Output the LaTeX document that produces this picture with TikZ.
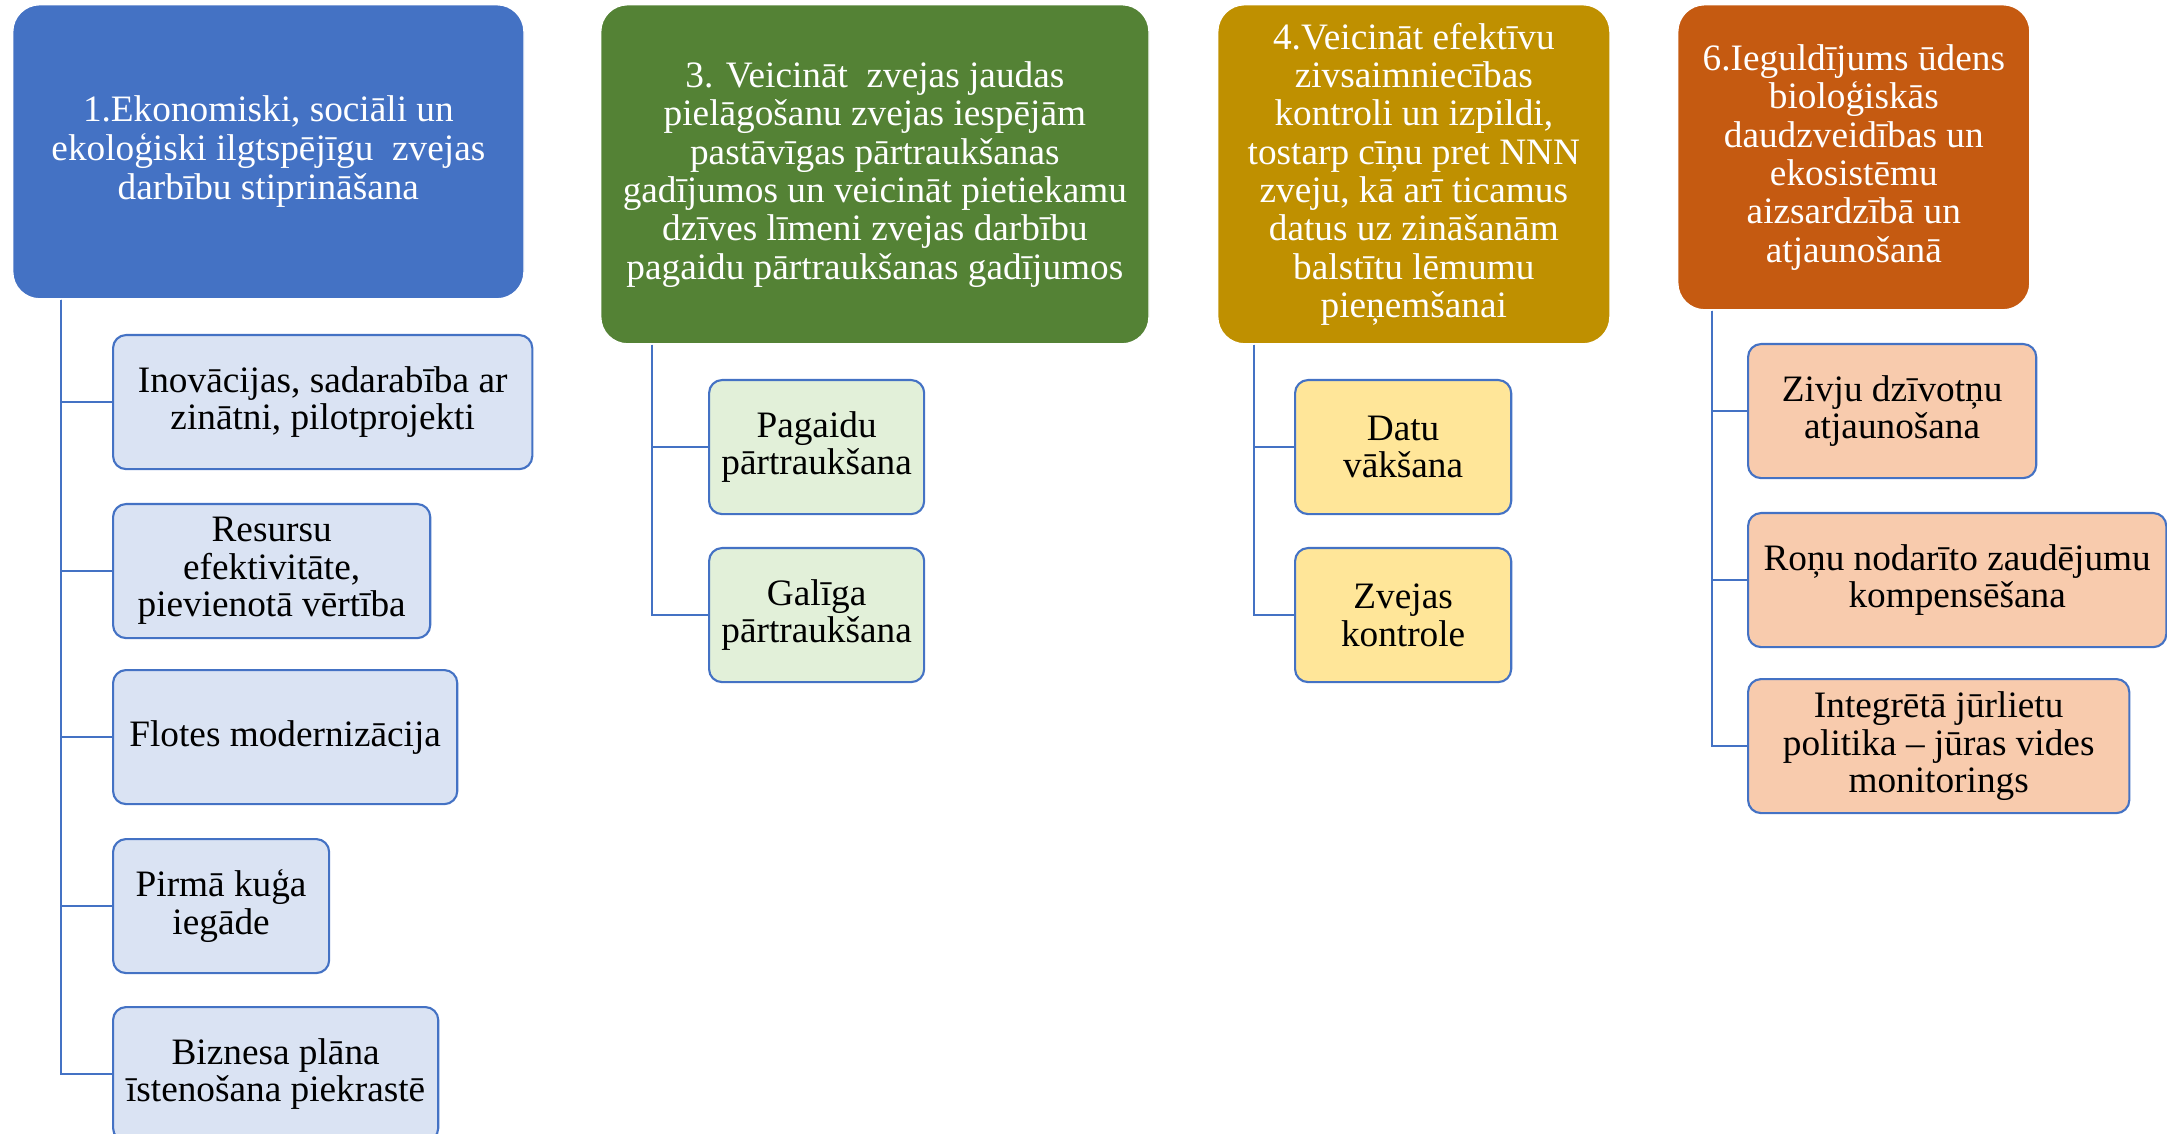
\documentclass[tikz,border=0pt]{standalone}
\usepackage{fontspec}
\setmainfont{Liberation Serif}
\usetikzlibrary{calc}
\definecolor{linkblue}{HTML}{4472C4}
\definecolor{goalblue}{HTML}{4472C4}
\definecolor{goalgreen}{HTML}{548235}
\definecolor{goalgold}{HTML}{BF9000}
\definecolor{goalrust}{HTML}{C55A11}
\definecolor{taskblue}{HTML}{DAE3F3}
\definecolor{taskgreen}{HTML}{E2F0D9}
\definecolor{taskgold}{HTML}{FFE699}
\definecolor{taskrust}{HTML}{F8CBAD}

\begin{document}
\begin{tikzpicture}[x=0.01cm, y=-0.01cm,
	goal/.style={rectangle, rounded corners=0.27cm, draw=white, line width=0.4pt,
		text=white, align=center, anchor=north west, inner sep=2pt,
		font=\fontsize{10.6}{10.9}\selectfont},
	task/.style={rectangle, rounded corners=0.13cm, draw=linkblue, line width=0.6pt,
		align=center, anchor=north west, minimum height=1.34cm, inner sep=2pt,
		font=\fontsize{10.6}{10.7}\selectfont},
	link/.style={draw=linkblue, line width=0.6pt}]
	% page: 2167 x 1134 px, 1px = 0.01cm, y runs down
	\useasboundingbox (0,0) rectangle (2167,1134);

	% goals
	\node[goal, fill=goalblue, minimum width=5.11cm, minimum height=2.94cm,
		font=\fontsize{10.6}{11.1}\selectfont] (g1) at (12,4)
		{1.Ekonomiski, sociāli un\\ekoloģiski ilgtspējīgu\ \ zvejas\\darbību stiprināšana};
	\node[goal, fill=goalgreen, minimum width=5.48cm, minimum height=3.39cm] (g3) at (600,4)
		{3. Veicināt\ \ zvejas jaudas\\pielāgošanu zvejas iespējām\\pastāvīgas pārtraukšanas\\gadījumos un veicināt pietiekamu\\dzīves līmeni zvejas darbību\\pagaidu pārtraukšanas gadījumos};
	\node[goal, fill=goalgold, minimum width=3.92cm, minimum height=3.39cm] (g4) at (1217,4)
		{4.Veicināt efektīvu\\zivsaimniecības\\kontroli un izpildi,\\tostarp cīņu pret NNN\\zveju, kā arī ticamus\\datus uz zināšanām\\balstītu lēmumu\\pieņemšanai};
	\node[goal, fill=goalrust, minimum width=3.52cm, minimum height=3.05cm] (g6) at (1677,4)
		{6.Ieguldījums ūdens\\bioloģiskās\\daudzveidības un\\ekosistēmu\\aizsardzībā un\\atjaunošanā};

	% tasks under goal 1
	\node[task, fill=taskblue, minimum width=4.19cm] (a1) at (112,334)
		{Inovācijas, sadarabība ar\\zinātni, pilotprojekti};
	\node[task, fill=taskblue, minimum width=3.17cm] (a2) at (112,503)
		{Resursu\\efektivitāte,\\pievienotā vērtība};
	\node[task, fill=taskblue, minimum width=3.44cm] (a3) at (112,669)
		{Flotes modernizācija};
	\node[task, fill=taskblue, minimum width=2.16cm] (a4) at (112,838)
		{Pirmā kuģa\\iegāde};
	\node[task, fill=taskblue, minimum width=3.25cm] (a5) at (112,1006)
		{Biznesa plāna\\īstenošana piekrastē};

	% tasks under goal 3
	\node[task, fill=taskgreen, minimum width=2.15cm] (b1) at (708,379)
		{Pagaidu\\pārtraukšana};
	\node[task, fill=taskgreen, minimum width=2.15cm] (b2) at (708,547)
		{Galīga\\pārtraukšana};

	% tasks under goal 4
	\node[task, fill=taskgold, minimum width=2.16cm] (c1) at (1294,379) {Datu\\vākšana};
	\node[task, fill=taskgold, minimum width=2.16cm] (c2) at (1294,547) {Zvejas\\kontrole};

	% tasks under goal 6
	\node[task, fill=taskrust, minimum width=2.88cm] (d1) at (1747,343)
		{Zivju dzīvotņu\\atjaunošana};
	\node[task, fill=taskrust, minimum width=4.18cm] (d2) at (1747,512)
		{Roņu nodarīto zaudējumu\\kompensēšana};
	\node[task, fill=taskrust, minimum width=3.81cm] (d3) at (1747,678)
		{Integrētā jūrlietu\\politika -- jūras vides\\monitorings};

	% connectors
	\coordinate (r1) at ($(g1.south west)+(49,0)$);
	\coordinate (r3) at ($(g3.south west)+(52,0)$);
	\coordinate (r4) at ($(g4.south west)+(37,0)$);
	\coordinate (r6) at ($(g6.south west)+(35,0)$);
	\foreach \n in {1,...,5}
		\draw[link] (r1) |- (a\n.west);
	\foreach \n in {1,2}
		\draw[link] (r3) |- (b\n.west);
	\foreach \n in {1,2}
		\draw[link] (r4) |- (c\n.west);
	\foreach \n in {1,2,3}
		\draw[link] (r6) |- (d\n.west);
\end{tikzpicture}
\end{document}
